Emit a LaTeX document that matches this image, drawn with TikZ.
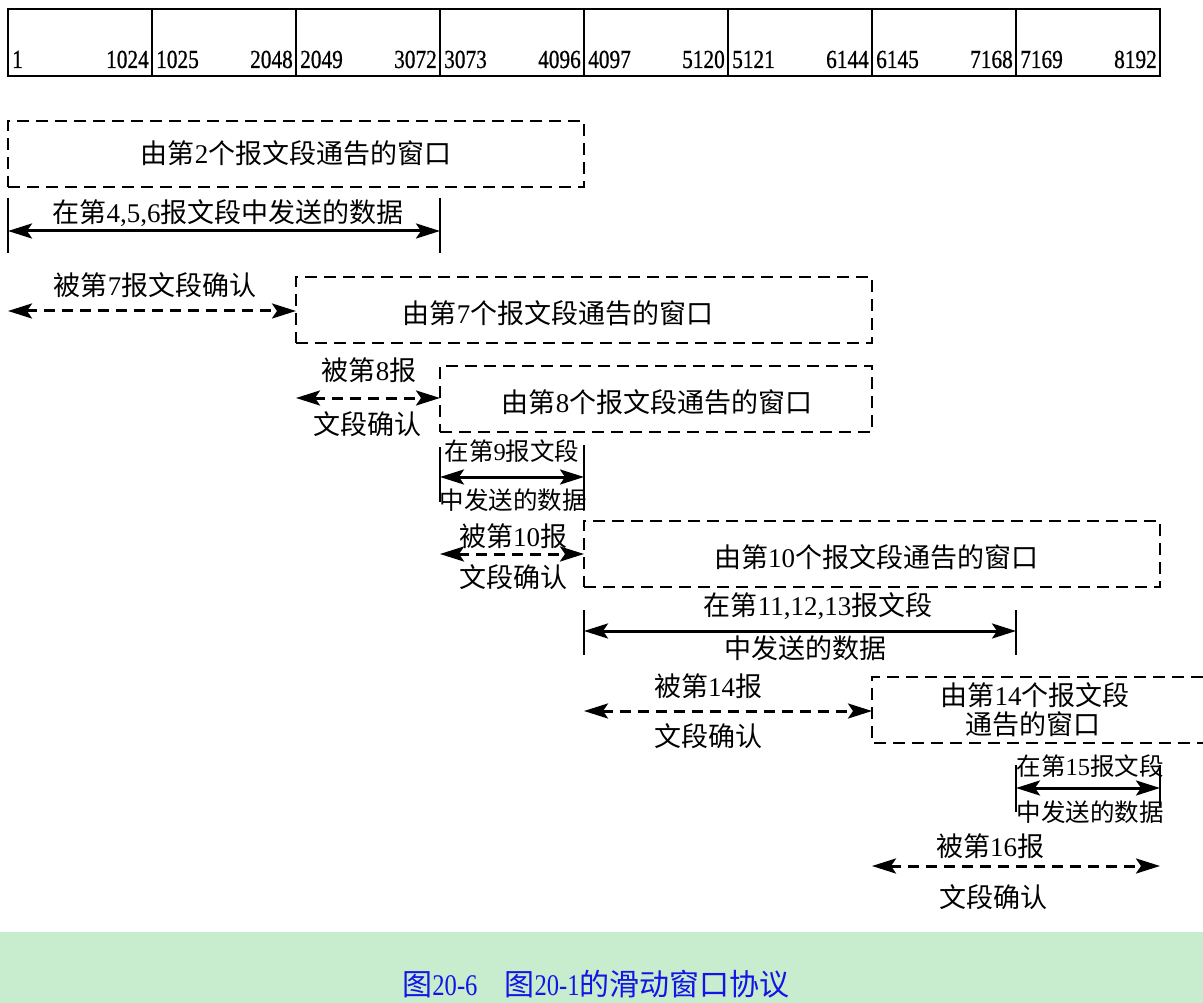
\documentclass[tikz,border=0pt]{standalone}
\usepackage{fontspec}
\usepackage{graphicx}
\setmainfont{Liberation Serif}
\newfontfamily\cjk{Noto Sans CJK SC}
\newfontfamily\numfont[FakeBold=0.8]{Liberation Serif}
\usetikzlibrary{arrows.meta}
\definecolor{capgreen}{RGB}{200,236,206}
\definecolor{capblue}{RGB}{20,20,230}
\newcommand\cond[1]{\scalebox{0.82}[1]{#1}}
\tikzset{
  lbl/.style={inner sep=0pt, font=\fontsize{27}{30}\selectfont},
  sml/.style={inner sep=0pt, font=\fontsize{24.5}{28}\selectfont},
  numlbl/.style={inner sep=0pt, font=\fontsize{26}{28}\numfont},
  winbox/.style={draw, line width=2pt, dash pattern=on 12pt off 7pt, inner sep=0pt},
  dataarr/.style={line width=3pt, {Stealth[length=24pt,width=15pt,inset=5pt]}-{Stealth[length=24pt,width=15pt,inset=5pt]}},
  ackarr/.style={dataarr, dash pattern=on 11pt off 7pt},
  endtick/.style={line width=2pt},
}
\begin{document}
\begin{tikzpicture}[x=1pt,y=-1pt]
\useasboundingbox (0,0) rectangle (1203,1003);
% caption band
\fill[capgreen] (0,932) rectangle (1203,1003);
\node[inner sep=0pt, text=capblue, font=\fontsize{30}{32}\selectfont] (cap) at (596,984)
  {{\cjk 图}\cond{20-6}\hspace{0.9em}{\cjk 图}\cond{20-1}{\cjk 的滑动窗口协议}};

% top byte bar
\node[draw, line width=2.6pt, minimum width=1152pt, minimum height=67pt, inner sep=0pt] (bar) at (584,42.5) {};
\foreach \k in {1,...,7} {
  \draw[line width=2pt] ({8+144*\k},9) -- ({8+144*\k},76);
}
\foreach \k in {0,...,7} {
  \pgfmathtruncatemacro{\lo}{1024*\k+1}
  \pgfmathtruncatemacro{\hi}{1024*(\k+1)}
  \node[numlbl, anchor=base west] (lo\k) at ({8+144*\k+4},68) {\cond{\lo}};
  \node[numlbl, anchor=base east] (hi\k) at ({8+144*(\k+1)-3},68) {\cond{\hi}};
}

% window advertised by segment 2
\node[winbox, minimum width=576pt, minimum height=66pt] (w2) at (296,154) {};
\node[lbl] (w2t) at (296,153) {{\cjk 由第}2{\cjk 个报文段通告的窗口}};

% data sent in 4,5,6
\coordinate (a1) at (8,231); \coordinate (a2) at (440,231);
\draw[endtick] (8,198) -- (8,253); \draw[endtick] (440,198) -- (440,253);
\draw[dataarr] (a1) -- (a2);
\node[lbl] (at) at (228,213) {{\cjk 在第}4,5,6{\cjk 报文段中发送的数据}};

% ack by 7
\coordinate (b1) at (8,311); \coordinate (b2) at (296,311);
\node[lbl] (bt) at (155,285) {{\cjk 被第}7{\cjk 报文段确认}};
\draw[ackarr] (b1) -- (b2);
\node[winbox, minimum width=576pt, minimum height=66pt] (w7) at (584,310) {};
\node[lbl] (w7t) at (558,313) {{\cjk 由第}7{\cjk 个报文段通告的窗口}};

% ack by 8
\coordinate (c1) at (296,398); \coordinate (c2) at (440,398);
\node[lbl] (ct1) at (369,370) {{\cjk 被第}8{\cjk 报}};
\draw[ackarr] (c1) -- (c2);
\node[lbl] (ct2) at (367,424) {\cjk 文段确认};
\node[winbox, minimum width=432pt, minimum height=66pt] (w8) at (656,399) {};
\node[lbl] (w8t) at (657,402) {{\cjk 由第}8{\cjk 个报文段通告的窗口}};

% data in 9
\coordinate (d1) at (440,477); \coordinate (d2) at (584,477);
\draw[endtick] (440,447) -- (440,502); \draw[endtick] (584,445) -- (584,510);
\draw[dataarr] (d1) -- (d2);
\node[sml] (dt1) at (512,451) {{\cjk 在第}9{\cjk 报文段}};
\node[sml] (dt2) at (513,500) {\cjk 中发送的数据};

% ack by 10
\coordinate (e1) at (440,554); \coordinate (e2) at (584,554);
\node[lbl] (et1) at (513,536) {{\cjk 被第}10{\cjk 报}};
\draw[ackarr] (e1) -- (e2);
\node[lbl] (et2) at (513,577) {\cjk 文段确认};
\node[winbox, minimum width=576pt, minimum height=66pt] (w10) at (872,554) {};
\node[lbl] (w10t) at (876,557) {{\cjk 由第}10{\cjk 个报文段通告的窗口}};

% data in 11,12,13
\coordinate (f1) at (584,631); \coordinate (f2) at (1016,631);
\draw[endtick] (584,610) -- (584,655); \draw[endtick] (1016,610) -- (1016,655);
\draw[dataarr] (f1) -- (f2);
\node[lbl] (ft1) at (818,606) {{\cjk 在第}11,12,13{\cjk 报文段}};
\node[lbl] (ft2) at (805,648) {\cjk 中发送的数据};

% ack by 14
\coordinate (g1) at (584,711); \coordinate (g2) at (872,711);
\node[lbl] (gt1) at (708,686) {{\cjk 被第}14{\cjk 报}};
\draw[ackarr] (g1) -- (g2);
\node[lbl] (gt2) at (708,736) {\cjk 文段确认};
\draw[line width=2pt, dash pattern=on 12pt off 7pt] (1203,677) -- (872,677) -- (872,743) -- (1203,743);
\node[lbl] (w14a) at (1035,695) {{\cjk 由第}14{\cjk 个报文段}};
\node[lbl] (w14b) at (1033,724) {\cjk 通告的窗口};

% data in 15
\coordinate (h1) at (1016,788); \coordinate (h2) at (1160,788);
\draw[endtick] (1016,765) -- (1016,812); \draw[endtick] (1160,765) -- (1160,806);
\draw[dataarr] (h1) -- (h2);
\node[sml] (ht1) at (1090,766) {{\cjk 在第}15{\cjk 报文段}};
\node[sml] (ht2) at (1090,812) {\cjk 中发送的数据};

% ack by 16
\coordinate (i1) at (872,866); \coordinate (i2) at (1160,866);
\node[lbl] (it1) at (990,846) {{\cjk 被第}16{\cjk 报}};
\draw[ackarr] (i1) -- (i2);
\node[lbl] (it2) at (993,897) {\cjk 文段确认};
\end{tikzpicture}
\end{document}
